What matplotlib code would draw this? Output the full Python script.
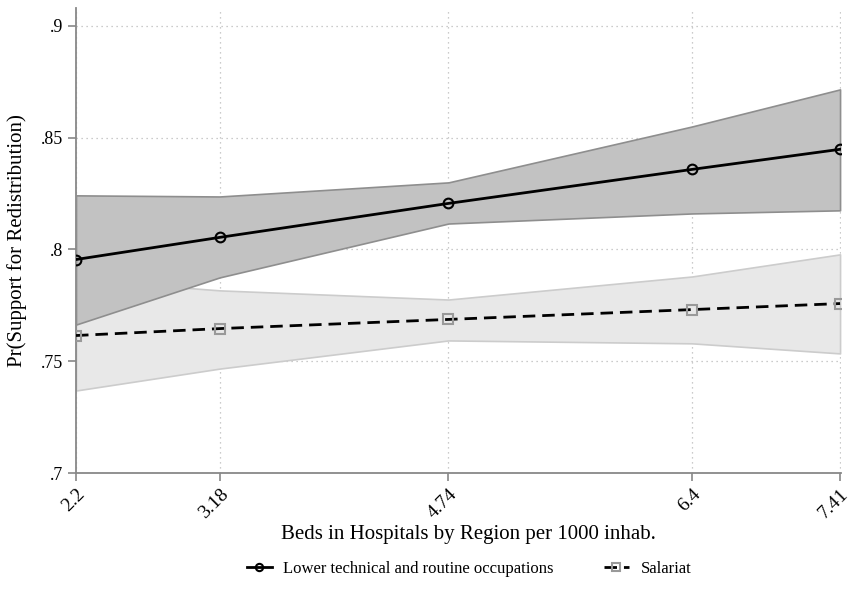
import matplotlib
matplotlib.use("Agg")
import matplotlib.pyplot as plt

beds = [2.2, 3.18, 4.74, 6.4, 7.41]
beds_labels = ["2.2", "3.18", "4.74", "6.4", "7.41"]

lower_mean = [0.7955, 0.8054, 0.8206, 0.8358, 0.8448]
lower_hi = [0.8242, 0.8237, 0.8300, 0.8550, 0.8716]
lower_lo = [0.7664, 0.7875, 0.8116, 0.8161, 0.8175]

sal_mean = [0.7615, 0.7646, 0.7687, 0.7731, 0.7758]
sal_hi = [0.7866, 0.7817, 0.7776, 0.7879, 0.7978]
sal_lo = [0.7369, 0.7467, 0.7593, 0.7580, 0.7535]

yticks = [0.7, 0.75, 0.8, 0.85, 0.9]
ytick_labels = [".7", ".75", ".8", ".85", ".9"]

plt.rcParams['font.family'] = ['Liberation Serif', 'DejaVu Serif']

fig = plt.figure(figsize=(8.51, 5.94), dpi=100)
ax = fig.add_axes([0.0893, 0.2037, 0.8987, 0.7828])

ax.fill_between(beds, sal_lo, sal_hi, facecolor="#e8e8e8", edgecolor="#cccccc", linewidth=1.2, zorder=2)
ax.fill_between(beds, lower_lo, lower_hi, facecolor="#c2c2c2", edgecolor="#8e8e8e", linewidth=1.2, zorder=3)

ax.plot(beds, lower_mean, color="black", linewidth=2.0, marker="o", markersize=7,
        markerfacecolor="none", markeredgecolor="black", markeredgewidth=1.5,
        label="Lower technical and routine occupations", zorder=5)
ax.plot(beds, sal_mean, color="black", linewidth=2.0, linestyle=(0, (4.5, 2.5)), marker="s", markersize=7,
        markerfacecolor="none", markeredgecolor="#999999", markeredgewidth=1.5,
        label="Salariat", zorder=4)

ax.set_xlim(2.2, 7.415)
ax.set_ylim(0.7, 0.908)
ax.set_xticks(beds)
ax.set_xticklabels(beds_labels, rotation=45, ha="right", va="top", rotation_mode="anchor", fontsize=14)
ax.set_yticks(yticks)
ax.set_yticklabels(ytick_labels, fontsize=13)

for x in beds:
    ax.axvline(x, color="#bbbbbb", linestyle=(0, (1, 3)), linewidth=0.9, zorder=1)
for y in yticks:
    ax.axhline(y, color="#bbbbbb", linestyle=(0, (1, 3)), linewidth=0.9, zorder=1)

for s in ["top", "right"]:
    ax.spines[s].set_visible(False)
for s in ["left", "bottom"]:
    ax.spines[s].set_color("#888888")
    ax.spines[s].set_linewidth(1.3)
ax.tick_params(axis="both", color="#888888", length=6, width=1.2, direction="out", pad=3)

fig.text(0.55, 1 - 535 / 594, "Beds in Hospitals by Region per 1000 inhab.", fontsize=15,
         ha="center", va="center")
ax.set_ylabel("Pr(Support for Redistribution)", fontsize=15, labelpad=10)

fig.legend(loc="center", bbox_to_anchor=(0.551, 1 - 569 / 594), ncol=2, frameon=False, fontsize=12,
           handlelength=1.5, handletextpad=0.7, columnspacing=3.0, markerscale=0.75)

fig.savefig("out.png", dpi=100)
